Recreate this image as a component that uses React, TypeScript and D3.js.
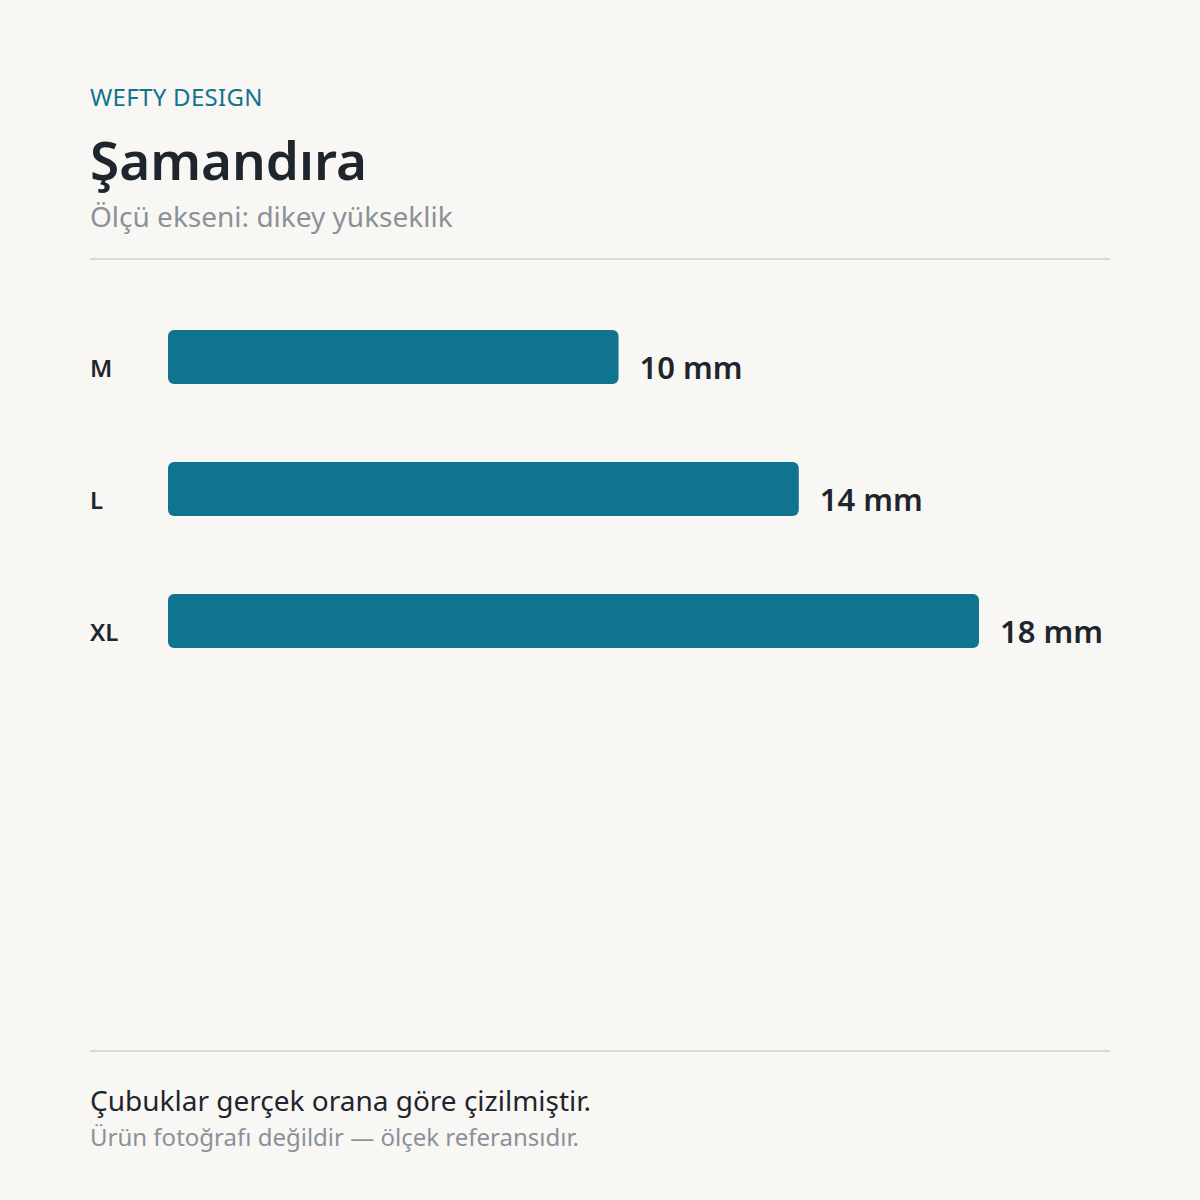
import React, { useRef, useEffect } from "react";
import * as d3 from "d3";

const SIZES = ["M", "L", "XL"];
const HEIGHTS_MM = [10, 14, 18];
const UNIT = "mm";

const BRAND = "WEFTY DESIGN";
const TITLE = "Şamandıra";
const SUBTITLE = "Ölçü ekseni: dikey yükseklik";
const NOTE = "Çubuklar gerçek orana göre çizilmiştir.";
const NOTE_SUB = "Ürün fotoğrafı değildir — ölçek referansıdır.";

const W = 1200;
const H = 1200;
const FONT = "'Noto Sans', 'Open Sans', sans-serif";
const BG = "#f8f7f4";
const BAR = "#10748f";
const INK = "#1f252c";
const MUTED = "#8b9199";
const RULE = "#dcd8d2";

export default function App() {
  const svgRef = useRef<SVGSVGElement>(null);

  useEffect(() => {
    if (!svgRef.current) return;
    const svg = d3.select(svgRef.current);
    svg.selectAll("*").remove();

    svg.append("rect").attr("width", W).attr("height", H).attr("fill", BG);

    // header
    svg
      .append("text")
      .attr("x", 90)
      .attr("y", 106)
      .style("font-size", "24px")
      .style("letter-spacing", "0.3px")
      .style("fill", BAR)
      .text(BRAND);

    svg
      .append("text")
      .attr("x", 90)
      .attr("y", 180)
      .style("font-size", "53px")
      .style("font-weight", 600)
      .style("fill", INK)
      .text(TITLE);

    svg
      .append("text")
      .attr("x", 90)
      .attr("y", 227)
      .style("font-size", "28px")
      .style("fill", MUTED)
      .text(SUBTITLE);

    svg
      .append("line")
      .attr("x1", 90)
      .attr("x2", 1110)
      .attr("y1", 259)
      .attr("y2", 259)
      .attr("stroke", RULE)
      .attr("stroke-width", 2);

    // scales
    const x = d3.scaleLinear().domain([0, 18]).range([168, 979]);
    const y = d3
      .scaleBand<string>()
      .domain(SIZES)
      .range([330, 648])
      .paddingInner(78 / 132)
      .paddingOuter(0);

    const rows = svg
      .append("g")
      .selectAll("g")
      .data(SIZES.map((s, i) => ({ size: s, value: HEIGHTS_MM[i] })))
      .join("g");

    rows
      .append("rect")
      .attr("x", x(0))
      .attr("y", (d) => y(d.size)!)
      .attr("width", (d) => x(d.value) - x(0))
      .attr("height", y.bandwidth())
      .attr("rx", 6)
      .attr("fill", BAR);

    rows
      .append("text")
      .attr("x", 90)
      .attr("y", (d) => y(d.size)! + y.bandwidth() - 7)
      .style("font-size", "24px")
      .style("font-weight", 600)
      .style("fill", INK)
      .text((d) => d.size);

    rows
      .append("text")
      .attr("x", (d) => x(d.value) + 21)
      .attr("y", (d) => y(d.size)! + y.bandwidth() - 5)
      .style("font-size", "31px")
      .style("font-weight", 600)
      .style("fill", INK)
      .text((d) => `${d.value} ${UNIT}`);

    // footer
    svg
      .append("line")
      .attr("x1", 90)
      .attr("x2", 1110)
      .attr("y1", 1051)
      .attr("y2", 1051)
      .attr("stroke", RULE)
      .attr("stroke-width", 2);

    svg
      .append("text")
      .attr("x", 90)
      .attr("y", 1111)
      .style("font-size", "28px")
      .style("fill", INK)
      .text(NOTE);

    svg
      .append("text")
      .attr("x", 90)
      .attr("y", 1146)
      .style("font-size", "24px")
      .style("fill", MUTED)
      .text(NOTE_SUB);
  }, []);

  return (
    <svg
      ref={svgRef}
      width={W}
      height={H}
      viewBox={`0 0 ${W} ${H}`}
      style={{ position: "absolute", left: 0, top: 0, fontFamily: FONT }}
    />
  );
}
